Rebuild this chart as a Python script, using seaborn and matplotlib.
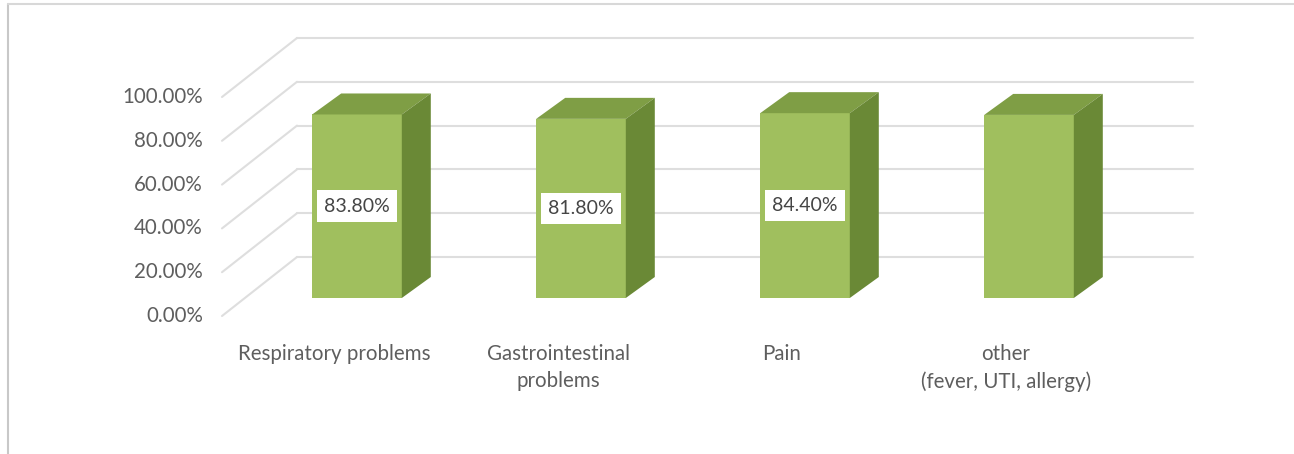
import numpy as np
import pandas as pd
import seaborn as sns
import matplotlib.pyplot as plt
from matplotlib.transforms import offset_copy, IdentityTransform
from matplotlib.patches import Polygon
from matplotlib.lines import Line2D

# data
categories = ['Respiratory problems', 'Gastrointestinal\nproblems', 'Pain',
              'other\n(fever, UTI, allergy)']
values = [83.8, 81.8, 84.4, 83.6]
value_labels = ['83.80%', '81.80%', '84.40%', '']
yticks = [0, 20, 40, 60, 80, 100]
ytick_labels = ['0.00%', '20.00%', '40.00%', '60.00%', '80.00%', '100.00%']

front_col = '#A0BF5E'
top_col = '#7F9E45'
side_col = '#6A8936'
grid_col = '#DEDEDE'
text_col = '#5E5E5E'

sns.set_theme(style='white')
plt.rcParams['font.family'] = ['Lato', 'DejaVu Sans']

W, H = 1294, 454
fig = plt.figure(figsize=(W / 100, H / 100), dpi=100)
fig.patch.set_facecolor('white')
ax = fig.add_axes([245 / W, 156 / H, 896 / W, 219 / H])

df = pd.DataFrame({'cat': categories, 'val': values})
sns.barplot(data=df, x='cat', y='val', width=0.4, color=front_col,
            saturation=1, linewidth=0, ax=ax, zorder=3)
ax.set_xlim(-0.5, 3.5)
ax.set_ylim(0, 100)
ax.axis('off')

# 3d offsets in pixels
back = np.array([52, 41])
front = np.array([-23, -18])
depth = np.array([29, 21])
ident = IdentityTransform()

def disp(x, y):
    return ax.transData.transform((x, y))

# walls: back gridlines + diagonal lines on the side wall
for v in yticks:
    bl = disp(-0.5, v) + back
    br = disp(3.5, v) + back
    fl = disp(-0.5, v) + front
    ax.add_line(Line2D([bl[0], br[0]], [bl[1], br[1]], transform=ident,
                       color=grid_col, lw=1.5, zorder=1, clip_on=False))
    ax.add_line(Line2D([fl[0], bl[0]], [fl[1], bl[1]], transform=ident,
                       color=grid_col, lw=1.5, zorder=1, clip_on=False))

# 3d top and side faces built from the seaborn bars
for p in ax.patches[:len(values)]:
    x0, x1 = p.get_x(), p.get_x() + p.get_width()
    h = p.get_height()
    tl, tr = disp(x0, h), disp(x1, h)
    br0 = disp(x1, 0)
    ax.add_patch(Polygon([tl, tr, tr + depth, tl + depth], closed=True,
                         transform=ident, fc=top_col, ec='none', zorder=3,
                         clip_on=False))
    ax.add_patch(Polygon([br0, tr, tr + depth, br0 + depth], closed=True,
                         transform=ident, fc=side_col, ec='none', zorder=3,
                         clip_on=False))

# y tick labels on the front plane
tick_tr = offset_copy(ax.transData, fig=fig, x=-42, y=-18, units='dots')
for v, lab in zip(yticks, ytick_labels):
    ax.text(-0.5, v, lab, transform=tick_tr, ha='right', va='center',
            fontsize=14.8, color=text_col, clip_on=False)

# category labels
cat_tr = offset_copy(ax.transData, fig=fig, x=-23, y=-46, units='dots')
for i, c in enumerate(categories):
    ax.text(i, 0, c, transform=cat_tr, ha='center', va='top',
            fontsize=14.8, color=text_col, linespacing=1.45, clip_on=False)

# value labels
for i, (v, lab) in enumerate(zip(values, value_labels)):
    if lab:
        ax.text(i, v / 2, lab, ha='center', va='center', fontsize=14,
                color='#454545', zorder=5,
                bbox=dict(boxstyle='square,pad=0.38', fc='white', ec='none'))

# chart frame
fx, fy = 7.5 / W, 1 - 3.5 / H
fig.add_artist(Line2D([fx, fx], [0, fy], transform=fig.transFigure,
                      color='#C8C8C8', lw=1.5))
fig.add_artist(Line2D([fx, 1], [fy, fy], transform=fig.transFigure,
                      color='#D8D8D8', lw=1.5))

fig.savefig('out.png', dpi=100, facecolor='white')
